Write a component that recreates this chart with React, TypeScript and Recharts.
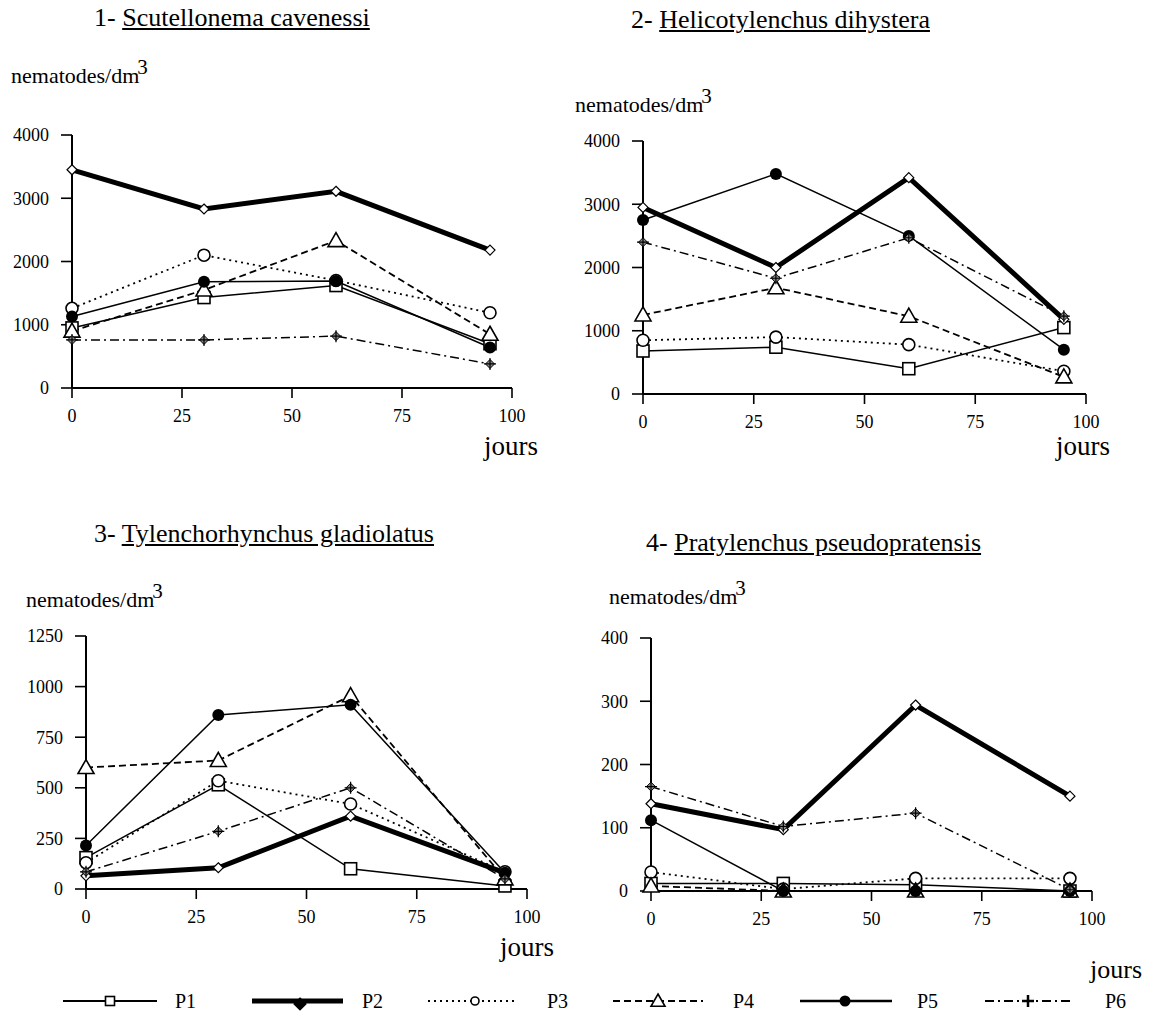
import React from 'react';
import { LineChart, Line, XAxis, YAxis } from 'recharts';

const FONT = "'Liberation Serif', 'Times New Roman', serif";

// sampling days (x axis)
const days = [0, 30, 60, 95];
const xTicks = [0, 25, 50, 75, 100];

// 1- Scutellonema cavenessi
const scutP1 = [950, 1430, 1620, 700];
const scutP2 = [3450, 2830, 3110, 2180];
const scutP3 = [1260, 2100, 1700, 1190];
const scutP4 = [900, 1550, 2330, 850];
const scutP5 = [1130, 1680, 1690, 640];
const scutP6 = [760, 760, 820, 380];
const scutTicks = [0, 1000, 2000, 3000, 4000];

// 2- Helicotylenchus dihystera
const heliP1 = [680, 740, 400, 1050];
const heliP2 = [2950, 2000, 3420, 1180];
const heliP3 = [850, 900, 780, 360];
const heliP4 = [1250, 1680, 1230, 270];
const heliP5 = [2750, 3480, 2500, 700];
const heliP6 = [2400, 1830, 2470, 1230];
const heliTicks = [0, 1000, 2000, 3000, 4000];

// 3- Tylenchorhynchus gladiolatus
const tyleP1 = [155, 515, 100, 15];
const tyleP2 = [65, 105, 360, 80];
const tyleP3 = [130, 535, 420, 85];
const tyleP4 = [600, 635, 955, 50];
const tyleP5 = [215, 860, 910, 80];
const tyleP6 = [85, 285, 500, 50];
const tyleTicks = [0, 250, 500, 750, 1000, 1250];

// 4- Pratylenchus pseudopratensis
const pratP1 = [12, 12, 10, 0];
const pratP2 = [138, 97, 294, 150];
const pratP3 = [30, 3, 20, 20];
const pratP4 = [8, 0, 0, 0];
const pratP5 = [112, 0, 0, 0];
const pratP6 = [165, 102, 123, 2];
const pratTicks = [0, 100, 200, 300, 400];

const plots = ['P1', 'P2', 'P3', 'P4', 'P5', 'P6'];

function rows(series: number[][]) {
  return days.map((d, i) => {
    const r: any = { day: d };
    plots.forEach((p, k) => (r[p] = series[k][i]));
    return r;
  });
}

const SERIES = [
  { key: 'P1', width: 1.5, dash: undefined, marker: 'square' },
  { key: 'P2', width: 5, dash: undefined, marker: 'diamond' },
  { key: 'P3', width: 1.8, dash: '2 4', marker: 'circle' },
  { key: 'P4', width: 1.8, dash: '7 4', marker: 'triangle' },
  { key: 'P5', width: 1.5, dash: undefined, marker: 'dot' },
  { key: 'P6', width: 1.5, dash: '9 4 2 4', marker: 'cross' },
];

function Marker({ kind, cx, cy, legend }: any) {
  if (cx == null || cy == null) return null;
  switch (kind) {
    case 'square': {
      const s = legend ? 4.5 : 6;
      return <rect x={cx - s} y={cy - s} width={2 * s} height={2 * s} fill="#fff" stroke="#000" strokeWidth={1.6} />;
    }
    case 'diamond': {
      const s = legend ? 6 : 5;
      return (
        <path
          d={`M${cx},${cy - s}L${cx + s},${cy}L${cx},${cy + s}L${cx - s},${cy}Z`}
          fill={legend ? '#000' : '#fff'}
          stroke="#000"
          strokeWidth={1.2}
        />
      );
    }
    case 'circle': {
      return <circle cx={cx} cy={cy} r={legend ? 4 : 6} fill="#fff" stroke="#000" strokeWidth={1.6} />;
    }
    case 'triangle': {
      const s = legend ? 7 : 8;
      return (
        <path d={`M${cx},${cy - s}L${cx + s},${cy + s * 0.75}L${cx - s},${cy + s * 0.75}Z`} fill="#fff" stroke="#000" strokeWidth={1.6} />
      );
    }
    case 'dot':
      return <circle cx={cx} cy={cy} r={legend ? 5.5 : 6} fill="#000" />;
    case 'cross': {
      if (legend) {
        return <path d={`M${cx - 6},${cy}H${cx + 6}M${cx},${cy - 6}V${cy + 6}`} stroke="#000" strokeWidth={2.5} />;
      }
      const s = 4.5;
      return (
        <g>
          <path d={`M${cx},${cy - s}L${cx + s},${cy}L${cx},${cy + s}L${cx - s},${cy}Z`} fill="#888" stroke="#000" strokeWidth={1} />
          <path d={`M${cx - 6},${cy}H${cx + 6}M${cx},${cy - 6}V${cy + 6}`} stroke="#000" strokeWidth={1.2} />
        </g>
      );
    }
  }
  return null;
}

const tickStyle = { fill: '#000', fontSize: 18, fontFamily: FONT };

function Panel({ left, top, w, h, data, ticks }: any) {
  const ml = 70, mt = 20, mr = 24, mb = 5, xh = 44;
  return (
    <div style={{ position: 'absolute', left: left - ml, top: top - mt }}>
      <LineChart width={ml + w + mr} height={mt + h + xh + mb} data={data} margin={{ top: mt, right: mr, bottom: mb, left: ml - 60 }}>
        <XAxis
          type="number"
          dataKey="day"
          domain={[0, 100]}
          ticks={xTicks}
          interval={0}
          height={xh}
          tickSize={10}
          tickMargin={11}
          axisLine={{ stroke: '#000', strokeWidth: 2 }}
          tickLine={{ stroke: '#000', strokeWidth: 1.6 }}
          tick={tickStyle}
        />
        <YAxis
          type="number"
          domain={[0, ticks[ticks.length - 1]]}
          ticks={ticks}
          interval={0}
          width={60}
          tickSize={11}
          tickMargin={12}
          axisLine={{ stroke: '#000', strokeWidth: 2 }}
          tickLine={{ stroke: '#000', strokeWidth: 1.6 }}
          tick={tickStyle}
        />
        {SERIES.map((s) => (
          <Line
            key={s.key}
            dataKey={s.key}
            type="linear"
            stroke="#000"
            strokeWidth={s.width}
            strokeDasharray={s.dash}
            isAnimationActive={false}
            dot={(p: any) => <Marker key={`${s.key}-${p.index}`} kind={s.marker} cx={p.cx} cy={p.cy} />}
            activeDot={false}
          />
        ))}
      </LineChart>
    </div>
  );
}

function Txt({ x, baseline, size, children }: any) {
  return (
    <div
      style={{
        position: 'absolute',
        left: x,
        top: baseline - size * 0.84,
        fontSize: size,
        lineHeight: 1,
        fontFamily: FONT,
        whiteSpace: 'nowrap',
        color: '#000',
      }}
    >
      {children}
    </div>
  );
}

function Title({ x, baseline, num, name }: any) {
  return (
    <Txt x={x} baseline={baseline} size={26}>
      {num}- <span style={{ textDecoration: 'underline' }}>{name}</span>
    </Txt>
  );
}

function Unit({ x, baseline }: any) {
  return (
    <Txt x={x} baseline={baseline} size={22}>
      nematodes/dm
      <span style={{ fontSize: 21, position: 'relative', top: -9, marginLeft: -2 }}>3</span>
    </Txt>
  );
}

const legendPos = [
  { x1: 63, x2: 157, m: 110, lx: 175 },
  { x1: 252, x2: 343, m: 300, lx: 362 },
  { x1: 428, x2: 515, m: 475, lx: 547 },
  { x1: 613, x2: 703, m: 658, lx: 733 },
  { x1: 800, x2: 892, m: 845, lx: 917 },
  { x1: 985, x2: 1073, m: 1028, lx: 1105 },
];

function LegendRow() {
  const y = 15;
  return (
    <svg width={1149} height={32} style={{ position: 'absolute', left: 0, top: 986 }}>
      {SERIES.map((s, i) => {
        const p = legendPos[i];
        return (
          <g key={s.key}>
            <line x1={p.x1} x2={p.x2} y1={y} y2={y} stroke="#000" strokeWidth={s.key === 'P2' ? 5 : s.key === 'P5' ? 2.5 : 2} strokeDasharray={s.dash} />
            <Marker kind={s.marker} cx={p.m} cy={s.key === 'P2' ? y + 3 : y} legend />
            <text x={p.lx} y={y + 7} fontSize={20} fontFamily={FONT} fill="#000">
              {s.key}
            </text>
          </g>
        );
      })}
    </svg>
  );
}

export default function App() {
  const d1 = rows([scutP1, scutP2, scutP3, scutP4, scutP5, scutP6]);
  const d2 = rows([heliP1, heliP2, heliP3, heliP4, heliP5, heliP6]);
  const d3 = rows([tyleP1, tyleP2, tyleP3, tyleP4, tyleP5, tyleP6]);
  const d4 = rows([pratP1, pratP2, pratP3, pratP4, pratP5, pratP6]);
  return (
    <div style={{ position: 'absolute', left: 0, top: 0, width: 1149, height: 1011, background: '#fff', overflow: 'hidden' }}>
      <Title x={94} baseline={27} num="1" name="Scutellonema cavenessi" />
      <Title x={631} baseline={29} num="2" name="Helicotylenchus dihystera" />
      <Title x={94} baseline={543} num="3" name="Tylenchorhynchus gladiolatus" />
      <Title x={646} baseline={552} num="4" name="Pratylenchus pseudopratensis" />

      <Unit x={11} baseline={83} />
      <Unit x={575} baseline={112} />
      <Unit x={26} baseline={607} />
      <Unit x={609} baseline={604} />

      <Panel left={72} top={135} w={440} h={253} data={d1} ticks={scutTicks} />
      <Panel left={643} top={141} w={443} h={253} data={d2} ticks={heliTicks} />
      <Panel left={86} top={636} w={441} h={253} data={d3} ticks={tyleTicks} />
      <Panel left={651} top={638} w={441} h={253} data={d4} ticks={pratTicks} />

      <Txt x={484} baseline={456} size={27}>jours</Txt>
      <Txt x={1056} baseline={456} size={27}>jours</Txt>
      <Txt x={500} baseline={957} size={27}>jours</Txt>
      <Txt x={1090} baseline={979} size={26}>jours</Txt>

      <LegendRow />
    </div>
  );
}
